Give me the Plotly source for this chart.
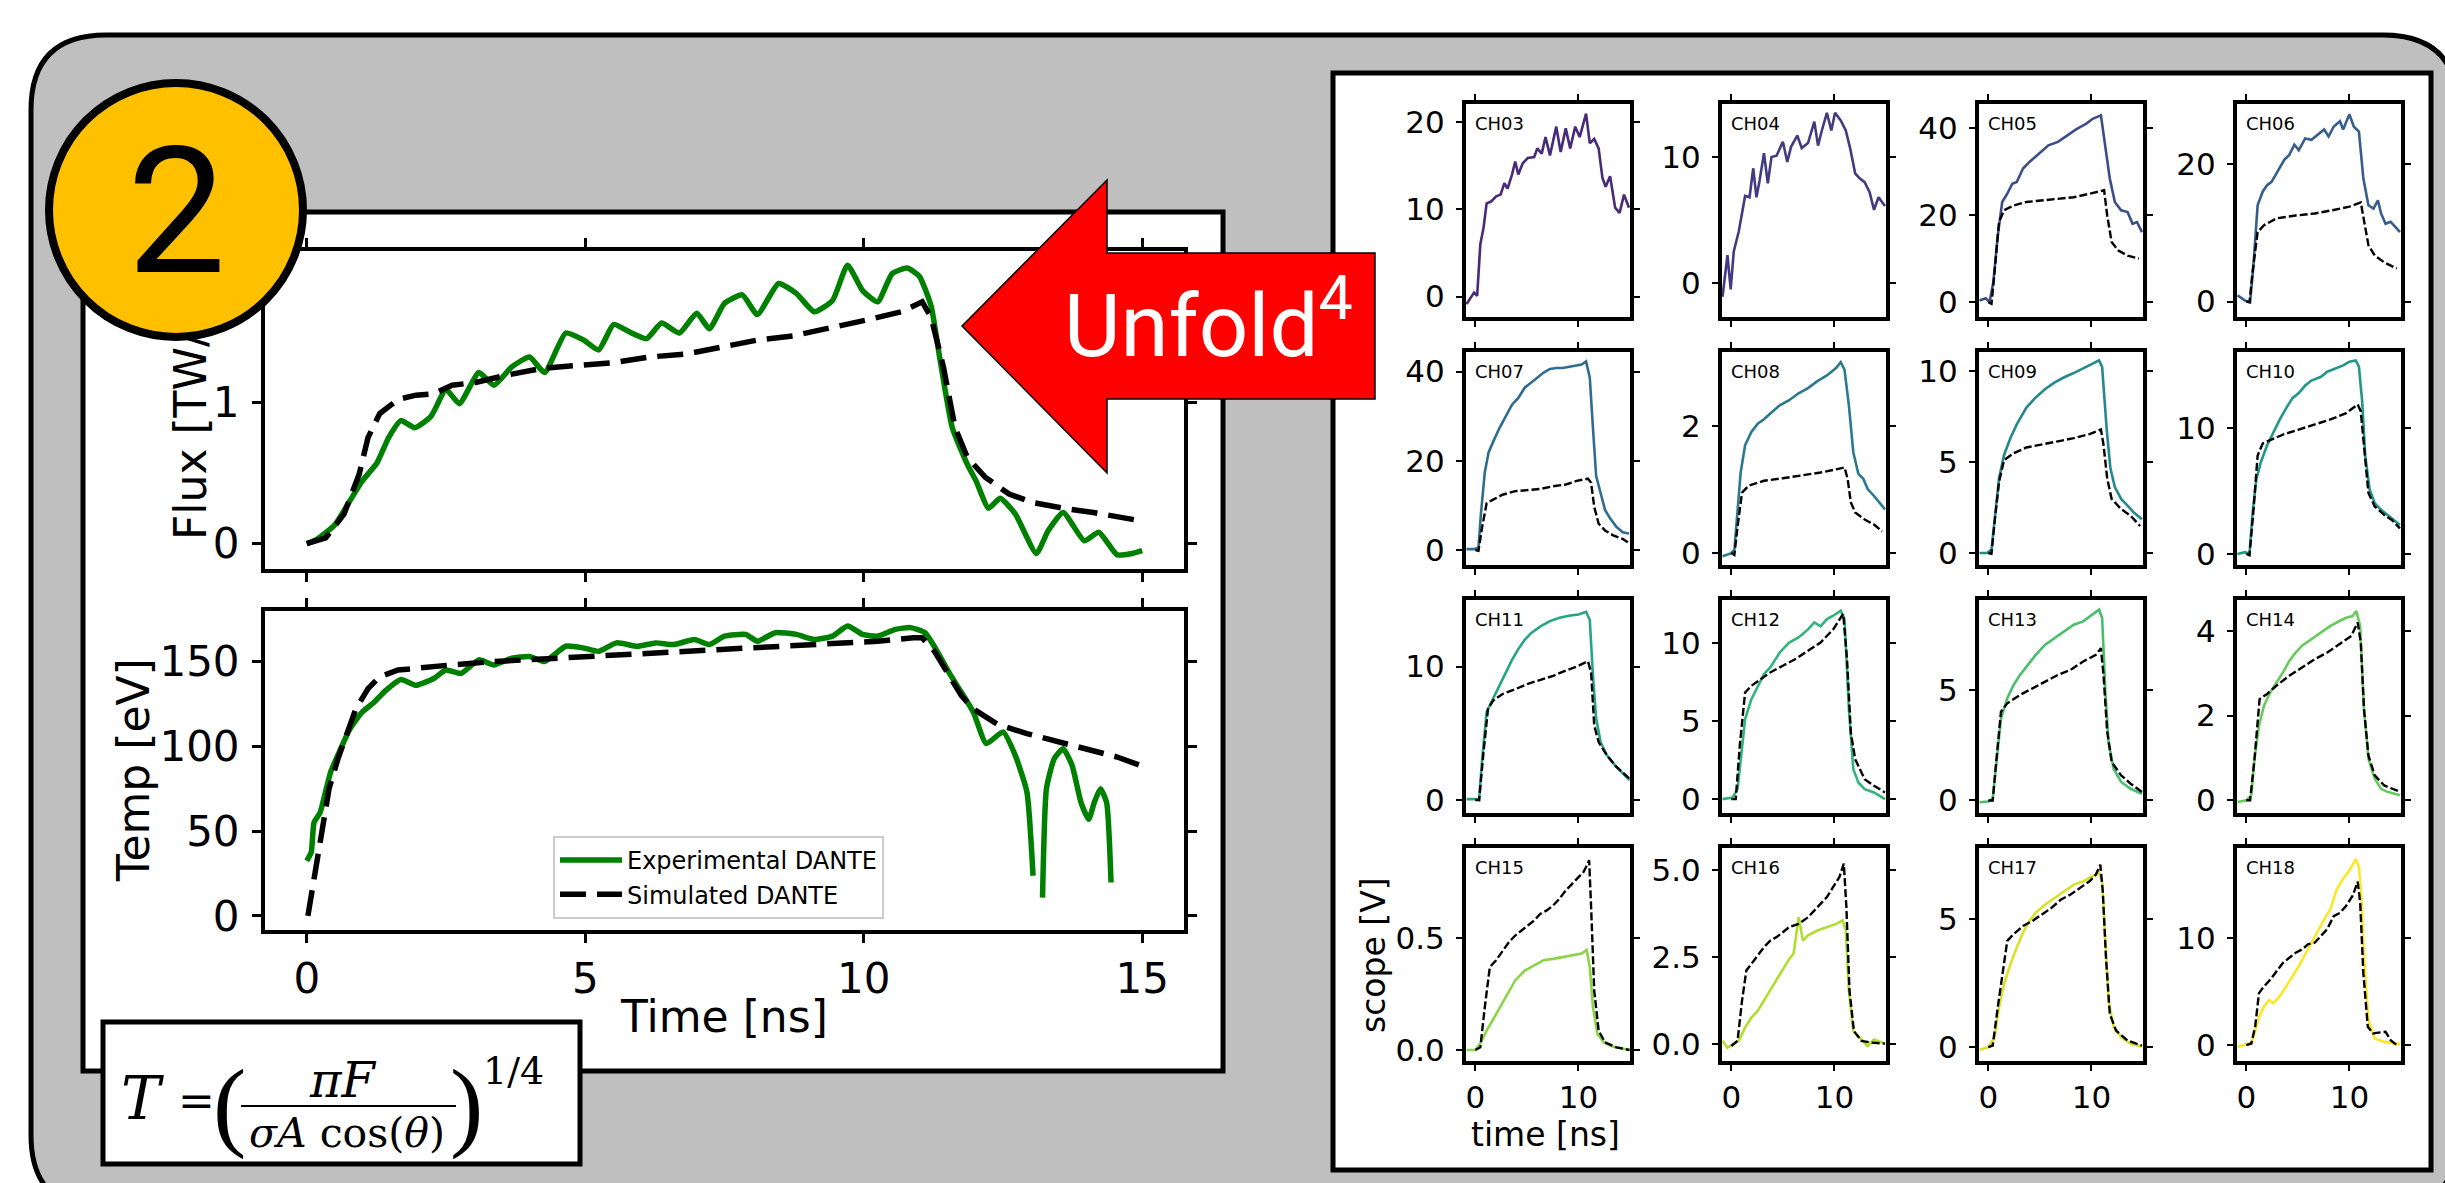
import plotly.graph_objects as go
from plotly.colors import sample_colorscale

W, H = 2445, 1183
FONT = "DejaVu Sans, Verdana, sans-serif"
SERIF = "DejaVu Serif, Liberation Serif, serif"
PAREN = "Liberation Serif, DejaVu Serif, serif"

# ---------------- data: main panels (time [ns], value) ----------------
FLUX_EXP = [(0.0, 0.0), (0.18, 0.03), (0.5, 0.13), (0.77, 0.30), (0.99, 0.44), (1.26, 0.57), (1.47, 0.75),
            (1.69, 0.87), (1.94, 0.82), (2.23, 0.90), (2.5, 1.09), (2.74, 0.99), (3.09, 1.21), (3.36, 1.12),
            (3.68, 1.25), (4.0, 1.32), (4.27, 1.21), (4.65, 1.49), (4.97, 1.44), (5.24, 1.37), (5.51, 1.55),
            (5.78, 1.50), (6.1, 1.45), (6.37, 1.56), (6.69, 1.49), (7.0, 1.63), (7.23, 1.52), (7.5, 1.70),
            (7.82, 1.76), (8.09, 1.62), (8.47, 1.84), (8.79, 1.77), (9.11, 1.64), (9.44, 1.72), (9.71, 1.97),
            (9.98, 1.79), (10.25, 1.71), (10.51, 1.91), (10.78, 1.95), (11.0, 1.89), (11.21, 1.68),
            (11.37, 1.30), (11.59, 0.82), (11.86, 0.56), (12.02, 0.44), (12.24, 0.25), (12.45, 0.32),
            (12.72, 0.21), (13.1, -0.07), (13.31, 0.09), (13.58, 0.22), (13.96, 0.02), (14.22, 0.08),
            (14.55, -0.08), (14.82, -0.07), (15.0, -0.05)]
FLUX_SIM = [(0.0, 0.0), (0.34, 0.04), (0.67, 0.21), (0.94, 0.49), (1.1, 0.75), (1.31, 0.92), (1.64, 1.02),
            (1.96, 1.05), (2.28, 1.06), (2.61, 1.12), (3.03, 1.14), (3.57, 1.19), (4.22, 1.24), (4.87, 1.26),
            (5.51, 1.28), (6.15, 1.32), (6.8, 1.34), (7.45, 1.39), (8.09, 1.44), (8.74, 1.47), (9.38, 1.52),
            (10.03, 1.58), (10.67, 1.64), (11.05, 1.71), (11.21, 1.60), (11.43, 1.25), (11.64, 0.82),
            (11.86, 0.61), (12.18, 0.47), (12.61, 0.35), (13.04, 0.29), (13.58, 0.25), (14.12, 0.22),
            (14.66, 0.18), (14.98, 0.16)]
TEMP_EXP = [(0.0, 32.5), (0.08, 37.5), (0.13, 55), (0.24, 61), (0.32, 71), (0.43, 85), (0.61, 98.6),
            (0.77, 110), (0.99, 120), (1.21, 126), (1.42, 133), (1.69, 139.4), (1.96, 136), (2.28, 140),
            (2.5, 145), (2.77, 143), (3.09, 151), (3.36, 148), (3.68, 152), (4.0, 153), (4.27, 150),
            (4.65, 159), (4.97, 158), (5.24, 156), (5.56, 161), (5.94, 159), (6.26, 161), (6.59, 160),
            (6.96, 163), (7.23, 160), (7.5, 165), (7.88, 166), (8.09, 162), (8.41, 167), (8.79, 166),
            (9.11, 163), (9.44, 165), (9.71, 171), (9.98, 166), (10.25, 165), (10.57, 169), (10.84, 170),
            (11.1, 167), (11.32, 156), (11.54, 143), (11.75, 132), (11.97, 120), (12.2, 101.6), (12.5, 108.5),
            (12.72, 94.7), (12.93, 73), (13.04, 23.7), (13.12, None), (13.21, 10.8), (13.28, 75),
            (13.42, 92.7), (13.58, 98.6), (13.74, 88.8), (13.9, 67), (14.04, 57), (14.14, 67), (14.25, 75),
            (14.36, 67), (14.44, 19.7)]
TEMP_SIM = [(0.02, 0), (0.13, 21.7), (0.24, 45), (0.4, 75), (0.56, 92.7), (0.72, 108.5), (0.88, 122),
            (1.1, 134), (1.31, 141), (1.64, 145), (2.07, 146), (2.6, 148), (3.36, 150), (4.22, 151.5),
            (5.08, 153), (5.94, 154), (6.8, 156), (7.66, 157), (8.52, 159), (9.38, 160), (10.25, 162),
            (10.89, 164), (11.05, 164), (11.27, 156), (11.54, 142), (11.75, 130), (11.97, 122), (12.4, 113),
            (12.93, 107.5), (13.5, 102.6), (14.12, 97.6), (14.55, 93.7), (14.96, 88.8)]

MAIN_XTICKS = [0, 5, 10, 15]
FLUX_YTICKS = [0, 1]
TEMP_YTICKS = [0, 50, 100, 150]
LEGEND_NAMES = ["Experimental DANTE", "Simulated DANTE"]

# ---------------- data: DANTE channel scope traces (time [ns], V) ----------------
CH03_EXP = [(-0.85, -0.87), (-0.43, -0.1), (-0.12, 0.46), (0.18, 0.08), (0.49, 6.0), (0.8, 7.9), (1.1, 10.7),
            (1.53, 10.9), (2.02, 11.5), (2.45, 11.7), (2.82, 13.0), (3.13, 12.4), (3.56, 14.0), (3.87, 15.5),
            (4.17, 14.0), (4.6, 15.3), (5.09, 15.9), (5.71, 16.0), (6.01, 17.0), (6.44, 16.4), (6.81, 18.3),
            (7.24, 16.2), (7.85, 19.5), (8.28, 16.6), (8.77, 19.3), (9.2, 17.0), (9.69, 19.5), (10.12, 18.3),
            (10.74, 21.0), (11.1, 17.6), (11.53, 18.1), (11.96, 17.0), (12.33, 13.6), (12.64, 12.6),
            (13.07, 13.8), (13.56, 10.2), (13.99, 9.6), (14.42, 11.7), (14.9, 10.2)]
CH04_EXP = [(-0.85, -1.1), (-0.37, 2.2), (-0.06, -0.5), (0.24, 2.5), (0.73, 4.1), (1.04, 5.4), (1.34, 6.9),
            (1.77, 6.8), (2.13, 9.1), (2.44, 6.8), (2.74, 8.1), (3.17, 10.3), (3.54, 7.9), (3.9, 10.0),
            (4.39, 10.1), (5.0, 11.2), (5.43, 9.6), (5.79, 10.8), (6.4, 11.7), (6.83, 10.7), (7.44, 11.1),
            (8.05, 12.8), (8.41, 10.9), (8.78, 12.1), (9.27, 13.5), (9.7, 12.1), (10.06, 13.5), (10.61, 12.9),
            (11.1, 12.1), (11.52, 10.7), (12.01, 8.7), (12.44, 8.3), (12.93, 8.0), (13.41, 7.2), (13.84, 5.8),
            (14.27, 6.8), (14.9, 6.1)]
CH05_EXP = [(-0.85, 0.4), (-0.25, 0.9), (0.12, 0.0), (0.49, 4.6), (0.92, 15.3), (1.35, 23.0), (1.84, 24.9),
            (2.33, 27.2), (2.76, 27.6), (3.37, 30.7), (3.99, 32.2), (4.91, 34.1), (5.83, 36.0), (6.75, 36.8),
            (7.67, 38.3), (8.59, 39.8), (9.51, 41.0), (10.12, 42.1), (10.92, 42.9), (11.35, 36.0),
            (11.78, 28.4), (12.27, 23.0), (12.88, 21.1), (13.5, 20.7), (13.99, 18.0), (14.42, 18.4),
            (14.9, 16.1)]
CH05_SIM = [(0.0, 0.0), (0.31, -0.4), (0.61, 6.9), (1.04, 18.4), (1.53, 21.1), (2.45, 22.2), (3.68, 23.0),
            (5.21, 23.4), (6.75, 23.8), (8.28, 24.1), (9.82, 24.9), (11.23, 25.7), (11.53, 19.9),
            (11.96, 13.8), (12.58, 11.9), (13.5, 10.7), (14.6, 10.0)]
CH06_EXP = [(-0.85, 0.9), (-0.12, 0.15), (0.37, -0.1), (0.67, 4.8), (1.1, 14.0), (1.6, 16.0), (2.02, 16.9),
            (2.45, 17.4), (2.76, 18.2), (3.25, 19.6), (3.68, 20.6), (4.17, 21.3), (4.66, 22.8), (5.09, 22.0),
            (5.71, 23.7), (6.32, 23.5), (6.93, 24.2), (7.55, 25.0), (7.98, 24.0), (8.47, 25.4), (9.08, 26.2),
            (9.39, 25.0), (10.0, 27.2), (10.43, 25.4), (10.92, 24.7), (11.35, 17.9), (11.84, 14.0),
            (12.33, 13.5), (12.76, 14.7), (13.07, 12.8), (13.5, 11.3), (13.99, 11.6), (14.42, 10.9),
            (14.9, 10.1)]
CH06_SIM = [(0.0, 0.0), (0.31, -0.1), (0.61, 4.3), (1.1, 10.1), (1.72, 11.1), (2.94, 12.1), (4.79, 12.5),
            (6.63, 12.8), (8.47, 13.3), (10.0, 13.8), (11.1, 14.4), (11.41, 11.6), (11.84, 8.2), (12.45, 6.7),
            (13.37, 5.7), (14.6, 4.8)]
CH07_EXP = [(-0.85, 0.2), (-0.12, 0.2), (0.31, 0.6), (0.55, 8.2), (0.92, 17.4), (1.29, 21.9), (1.72, 24.2),
            (2.33, 27.3), (2.94, 29.9), (3.56, 32.6), (4.17, 34.1), (4.79, 36.4), (5.4, 37.5), (6.01, 38.7),
            (6.63, 39.8), (7.24, 40.6), (7.85, 40.8), (8.47, 40.8), (9.08, 41.1), (9.69, 41.4), (10.31, 41.6),
            (10.74, 42.3), (11.1, 38.7), (11.41, 27.3), (11.72, 16.6), (12.15, 12.8), (12.58, 9.0),
            (13.07, 7.1), (13.68, 5.2), (14.29, 4.0), (14.9, 3.7)]
CH07_SIM = [(0.0, 0.0), (0.31, -0.15), (0.67, 5.2), (1.1, 10.5), (1.72, 11.3), (2.64, 12.4), (3.87, 13.2),
            (5.09, 13.4), (6.32, 13.7), (7.55, 14.3), (8.77, 14.7), (9.82, 15.5), (10.92, 16.0), (11.23, 15.1),
            (11.53, 9.7), (11.96, 5.9), (12.58, 4.4), (13.37, 3.3), (14.29, 2.5), (14.79, 1.75)]
CH08_EXP = [(-0.85, -0.05), (-0.12, -0.01), (0.3, 0.05), (0.61, 0.64), (0.91, 1.27), (1.34, 1.70),
            (1.95, 1.91), (2.56, 2.04), (3.17, 2.11), (3.78, 2.20), (4.7, 2.33), (5.61, 2.41), (6.52, 2.52),
            (7.44, 2.60), (8.35, 2.71), (9.27, 2.80), (10.18, 2.92), (10.61, 3.01), (10.98, 2.89), (11.4, 2.33),
            (11.83, 1.59), (12.32, 1.25), (12.8, 1.17), (13.23, 1.01), (13.84, 0.90), (14.9, 0.69)]
CH08_SIM = [(0.0, 0.0), (0.3, -0.03), (0.61, 0.42), (1.04, 0.95), (1.65, 1.06), (3.17, 1.14), (5.0, 1.18),
            (6.83, 1.22), (8.66, 1.27), (10.18, 1.32), (10.98, 1.35), (11.28, 1.17), (11.59, 0.80),
            (12.01, 0.64), (12.93, 0.53), (13.84, 0.45), (14.63, 0.34)]
CH09_EXP = [(-0.85, 0.0), (-0.12, 0.0), (0.31, 0.19), (0.61, 1.86), (1.04, 4.10), (1.53, 5.40), (2.15, 6.33),
            (2.76, 7.08), (3.68, 8.0), (4.6, 8.57), (5.52, 9.03), (6.44, 9.40), (7.36, 9.68), (8.28, 9.91),
            (9.2, 10.15), (10.12, 10.43), (10.74, 10.61), (11.04, 10.24), (11.47, 6.89), (11.84, 4.66),
            (12.27, 3.63), (12.88, 2.98), (13.5, 2.61), (14.11, 2.23), (14.9, 1.86)]
CH09_SIM = [(0.0, 0.0), (0.31, -0.04), (0.61, 1.68), (1.04, 3.91), (1.53, 5.12), (2.45, 5.49), (3.68, 5.81),
            (5.21, 5.96), (6.75, 6.15), (8.28, 6.33), (9.82, 6.55), (10.92, 6.80), (11.17, 5.96), (11.53, 4.10),
            (11.96, 2.98), (12.88, 2.42), (13.8, 2.05), (14.72, 1.49)]
CH10_EXP = [(-0.85, 0.0), (-0.12, 0.14), (0.31, 0.0), (0.61, 3.24), (0.98, 5.95), (1.41, 7.3), (2.02, 8.65),
            (2.64, 9.73), (3.25, 10.7), (3.87, 11.6), (4.48, 12.4), (5.09, 12.8), (5.71, 13.4), (6.32, 13.8),
            (7.24, 14.1), (7.85, 14.5), (8.47, 14.7), (9.39, 15.0), (10.0, 15.3), (10.61, 15.4), (10.92, 14.9),
            (11.23, 12.2), (11.53, 7.84), (11.96, 5.14), (12.45, 4.05), (13.07, 3.51), (13.68, 3.11),
            (14.29, 2.70), (14.9, 2.30)]
CH10_SIM = [(0.0, 0.0), (0.31, -0.1), (0.67, 3.2), (1.1, 7.84), (1.6, 8.8), (2.64, 9.2), (3.56, 9.5),
            (5.09, 9.9), (6.63, 10.3), (8.16, 10.7), (9.69, 11.2), (10.8, 11.9), (11.1, 11.35), (11.41, 8.65),
            (11.84, 4.86), (12.45, 3.78), (13.37, 3.11), (14.11, 2.70), (14.9, 2.03)]
CH11_EXP = [(-0.85, 0.07), (0.0, 0.07), (0.37, 0.0), (0.67, 3.1), (1.1, 6.6), (1.72, 7.6), (2.33, 8.6),
            (2.94, 9.55), (3.56, 10.5), (4.17, 11.3), (4.79, 12.0), (5.4, 12.5), (6.32, 13.0), (7.24, 13.4),
            (8.16, 13.65), (9.08, 13.8), (10.0, 13.9), (10.74, 14.1), (11.1, 13.5), (11.41, 9.3), (11.72, 6.1),
            (12.15, 4.34), (12.76, 3.35), (13.56, 2.6), (14.29, 1.99), (14.95, 1.49)]
CH11_SIM = [(0.0, 0.0), (0.37, 0.0), (0.8, 3.6), (1.23, 6.8), (1.72, 7.44), (2.64, 7.94), (3.87, 8.3),
            (5.09, 8.7), (6.32, 9.0), (7.55, 9.3), (8.77, 9.7), (10.0, 10.05), (10.92, 10.4), (11.23, 9.55),
            (11.53, 5.6), (11.96, 4.34), (12.76, 3.35), (13.68, 2.48), (14.95, 1.61)]
CH12_EXP = [(-0.85, 0.0), (0.12, 0.1), (0.61, 0.64), (0.91, 2.57), (1.34, 5.14), (1.95, 6.42), (2.56, 7.28),
            (3.17, 8.03), (3.78, 8.46), (4.7, 9.42), (5.61, 10.06), (6.52, 10.38), (7.44, 10.9), (8.05, 11.35),
            (8.66, 11.1), (9.27, 11.56), (9.88, 11.78), (10.61, 12.1), (10.98, 11.56), (11.4, 5.78),
            (11.83, 1.93), (12.32, 1.07), (12.93, 0.64), (13.84, 0.43), (14.9, 0.0)]
CH12_SIM = [(0.0, 0.0), (0.43, 0.0), (0.85, 3.64), (1.34, 6.85), (1.95, 7.28), (2.87, 7.71), (3.78, 8.14),
            (5.0, 8.57), (6.22, 9.0), (7.44, 9.53), (8.66, 10.06), (9.88, 10.9), (10.85, 11.9), (11.22, 9.0),
            (11.59, 4.28), (12.01, 2.57), (12.93, 1.28), (13.84, 0.86), (14.9, 0.43)]
CH13_EXP = [(-0.85, -0.08), (0.0, -0.05), (0.43, 0.08), (0.8, 1.9), (1.23, 3.72), (1.84, 4.64), (2.45, 5.24),
            (3.07, 5.7), (3.68, 6.08), (4.6, 6.61), (5.52, 7.07), (6.44, 7.37), (7.36, 7.67), (8.28, 7.98),
            (9.2, 8.13), (10.12, 8.43), (10.74, 8.66), (11.04, 8.28), (11.35, 4.94), (11.66, 2.66),
            (12.15, 1.44), (12.88, 0.84), (13.8, 0.53), (14.9, 0.30)]
CH13_SIM = [(0.0, 0.0), (0.43, 0.0), (0.8, 1.9), (1.23, 4.03), (1.84, 4.41), (3.07, 4.79), (4.29, 5.09),
            (5.52, 5.4), (6.75, 5.7), (7.98, 5.93), (9.2, 6.31), (10.43, 6.61), (10.92, 6.91), (11.17, 5.7),
            (11.53, 3.12), (11.96, 1.75), (12.88, 1.14), (13.8, 0.76), (14.9, 0.38)]
CH14_EXP = [(-0.85, -0.04), (0.0, 0.0), (0.49, 0.12), (0.8, 0.98), (1.23, 1.76), (1.72, 2.24), (2.33, 2.55),
            (2.94, 2.78), (3.56, 3.02), (4.17, 3.29), (4.79, 3.49), (5.4, 3.65), (6.32, 3.80), (7.24, 3.96),
            (8.16, 4.12), (9.08, 4.24), (9.69, 4.31), (10.31, 4.35), (10.67, 4.47), (11.04, 4.12),
            (11.41, 2.16), (11.84, 0.98), (12.45, 0.51), (13.07, 0.27), (13.68, 0.2), (14.9, 0.12)]
CH14_SIM = [(0.0, 0.0), (0.37, 0.0), (0.8, 0.98), (1.29, 2.39), (2.02, 2.51), (2.94, 2.71), (4.17, 2.94),
            (5.4, 3.14), (6.63, 3.33), (7.85, 3.49), (9.08, 3.69), (10.18, 3.88), (10.8, 4.2), (11.1, 3.73),
            (11.41, 2.16), (11.84, 1.06), (12.45, 0.59), (13.37, 0.35), (14.9, 0.2)]
CH15_EXP = [(-0.85, 0.0), (0.0, 0.0), (0.49, 0.03), (1.1, 0.086), (2.02, 0.16), (2.94, 0.235), (3.87, 0.31),
            (4.79, 0.354), (5.71, 0.376), (6.63, 0.40), (7.55, 0.406), (8.47, 0.414), (9.39, 0.42),
            (10.31, 0.43), (10.8, 0.446), (11.1, 0.37), (11.41, 0.19), (11.84, 0.071), (12.45, 0.034),
            (13.37, 0.015), (14.95, 0.0)]
CH15_SIM = [(0.0, 0.0), (0.49, 0.012), (0.92, 0.19), (1.41, 0.37), (2.02, 0.40), (2.64, 0.443), (3.25, 0.48),
            (3.87, 0.51), (4.48, 0.533), (5.09, 0.555), (5.71, 0.577), (6.32, 0.607), (6.93, 0.622),
            (7.55, 0.644), (8.16, 0.674), (8.77, 0.711), (9.39, 0.741), (10.0, 0.77), (10.49, 0.793),
            (10.74, 0.815), (11.04, 0.845), (11.23, 0.637), (11.53, 0.265), (11.96, 0.086), (12.58, 0.034),
            (13.68, 0.012), (14.95, 0.0)]
CH16_EXP = [(-0.85, 0.1), (-0.37, -0.1), (0.12, 0.0), (0.73, 0.1), (1.34, 0.48), (1.95, 0.77), (2.56, 0.96),
            (3.17, 1.25), (3.78, 1.54), (4.39, 1.83), (5.0, 2.12), (5.61, 2.45), (6.04, 2.6), (6.52, 3.65),
            (6.95, 2.98), (7.44, 3.13), (8.35, 3.27), (9.27, 3.37), (10.18, 3.46), (10.79, 3.56), (11.1, 3.27),
            (11.4, 1.54), (11.83, 0.38), (12.44, 0.19), (13.23, -0.05), (13.84, 0.14), (14.9, 0.02)]
CH16_SIM = [(0.0, -0.05), (0.61, 0.1), (1.04, 1.25), (1.46, 2.12), (1.95, 2.31), (2.56, 2.55), (3.17, 2.79),
            (3.78, 2.98), (4.39, 3.08), (5.0, 3.22), (5.61, 3.37), (6.52, 3.46), (7.44, 3.65), (8.35, 3.94),
            (9.27, 4.23), (9.88, 4.52), (10.49, 4.81), (10.91, 5.19), (11.16, 3.94), (11.46, 1.54),
            (11.89, 0.38), (12.62, 0.1), (13.54, 0.05), (14.9, 0.02)]
CH17_EXP = [(-0.85, -0.1), (0.0, 0.0), (0.61, 0.39), (1.04, 1.56), (1.53, 2.47), (2.15, 3.25), (2.76, 3.9),
            (3.37, 4.48), (3.99, 4.94), (4.6, 5.26), (5.52, 5.58), (6.44, 5.84), (7.36, 6.1), (8.28, 6.36),
            (9.2, 6.49), (10.12, 6.69), (10.74, 6.82), (11.04, 6.49), (11.35, 4.16), (11.66, 1.82),
            (12.15, 0.78), (12.88, 0.39), (13.8, 0.13), (14.9, 0.03)]
CH17_SIM = [(0.0, 0.0), (0.43, 0.06), (0.92, 1.56), (1.35, 2.86), (1.84, 4.16), (2.45, 4.42), (3.37, 4.74),
            (4.29, 4.94), (5.21, 5.19), (6.13, 5.45), (7.06, 5.78), (7.98, 5.97), (8.9, 6.23), (9.82, 6.49),
            (10.43, 6.75), (10.86, 7.14), (11.1, 6.1), (11.41, 3.51), (11.78, 1.3), (12.39, 0.65),
            (13.5, 0.26), (14.9, 0.06)]
CH18_EXP = [(-0.85, -0.16), (0.0, 0.1), (0.49, 0.16), (0.8, 1.1), (1.23, 2.66), (1.72, 3.6), (2.21, 4.2),
            (2.64, 3.9), (3.25, 4.53), (3.87, 5.47), (4.48, 6.4), (5.09, 7.34), (5.71, 8.44), (6.32, 9.53),
            (6.93, 10.6), (7.55, 11.7), (8.16, 12.66), (8.77, 14.5), (9.39, 15.5), (10.0, 16.25),
            (10.61, 17.3), (10.92, 16.6), (11.17, 13.6), (11.41, 8.28), (11.84, 2.34), (12.45, 0.63),
            (13.37, 0.31), (14.9, 0.1)]
CH18_SIM = [(0.0, 0.0), (0.49, 0.16), (0.86, 1.72), (1.23, 4.84), (1.72, 5.47), (2.33, 6.1), (2.94, 6.88),
            (3.56, 7.66), (4.17, 8.13), (4.79, 8.6), (5.4, 8.9), (6.01, 9.4), (6.63, 9.53), (7.24, 10.2),
            (7.85, 10.8), (8.47, 12.0), (9.08, 12.3), (9.69, 12.97), (10.31, 13.9), (10.8, 15.2),
            (11.04, 13.3), (11.35, 6.7), (11.78, 1.72), (12.27, 1.1), (13.07, 1.16), (13.5, 1.25),
            (13.99, 0.47), (14.6, 0.0)]

CHANNEL_NAMES = ["CH03", "CH04", "CH05", "CH06", "CH07", "CH08", "CH09", "CH10",
                 "CH11", "CH12", "CH13", "CH14", "CH15", "CH16", "CH17", "CH18"]
CHANNEL_EXP = [CH03_EXP, CH04_EXP, CH05_EXP, CH06_EXP, CH07_EXP, CH08_EXP, CH09_EXP, CH10_EXP,
               CH11_EXP, CH12_EXP, CH13_EXP, CH14_EXP, CH15_EXP, CH16_EXP, CH17_EXP, CH18_EXP]
CHANNEL_SIM = [None, None, CH05_SIM, CH06_SIM, CH07_SIM, CH08_SIM, CH09_SIM, CH10_SIM,
               CH11_SIM, CH12_SIM, CH13_SIM, CH14_SIM, CH15_SIM, CH16_SIM, CH17_SIM, CH18_SIM]
CHANNEL_YTICKS = [[0, 10, 20], [0, 10], [0, 20, 40], [0, 20], [0, 20, 40], [0, 2], [0, 5, 10], [0, 10],
                  [0, 10], [0, 5, 10], [0, 5], [0, 2, 4], [0.0, 0.5], [0.0, 2.5, 5.0], [0, 5], [0, 10]]
CHANNEL_YTICKTEXT = [["0", "10", "20"], ["0", "10"], ["0", "20", "40"], ["0", "20"], ["0", "20", "40"],
                     ["0", "2"], ["0", "5", "10"], ["0", "10"], ["0", "10"], ["0", "5", "10"], ["0", "5"],
                     ["0", "2", "4"], ["0.0", "0.5"], ["0.0", "2.5", "5.0"], ["0", "5"], ["0", "10"]]
SMALL_XTICKS = [0, 10]

# ---------------- axis ranges (layout) ----------------
CHANNEL_YRANGE = [[-2.35, 22.1], [-2.7, 14.2], [-3.4, 45.5], [-2.24, 28.7], [-3.35, 44.4], [-0.188, 3.17],
                  [-0.66, 11.07], [-0.88, 16.07], [-0.97, 14.98], [-0.89, 12.79], [-0.57, 9.1], [-0.30, 4.73],
                  [-0.049, 0.90], [-0.48, 5.64], [-0.54, 7.79], [-1.47, 18.34]]
SMALL_XRANGE = [-0.9, 15.0]
MAIN_XRANGE = [-0.75, 15.75]
FLUX_YRANGE = [-0.18, 2.07]
TEMP_YRANGE = [-8.3, 179.8]


def X(p):
    return p / W


def Y(p):
    return 1 - p / H


def unzip(pairs):
    return [p[0] for p in pairs], [p[1] for p in pairs]


fig = go.Figure()

GREEN = "#008000"
for pairs, ax, ay, show in [(FLUX_EXP, "x", "y", False), (TEMP_EXP, "x2", "y2", True)]:
    tx, ty = unzip(pairs)
    fig.add_trace(go.Scatter(x=tx, y=ty, mode="lines", name=LEGEND_NAMES[0], showlegend=show, xaxis=ax, yaxis=ay,
                             line=dict(color=GREEN, width=5.5, shape="spline", smoothing=0.5),
                             hoverinfo="skip"))
for pairs, ax, ay, show in [(FLUX_SIM, "x", "y", False), (TEMP_SIM, "x2", "y2", True)]:
    tx, ty = unzip(pairs)
    fig.add_trace(go.Scatter(x=tx, y=ty, mode="lines", name=LEGEND_NAMES[1], showlegend=show, xaxis=ax, yaxis=ay,
                             line=dict(color="black", width=5.5, dash="26px,11px"),
                             hoverinfo="skip"))

colors = sample_colorscale("Viridis", [(i + 2) / 17 for i in range(16)])

COL_LEFT = [1466, 1722, 1979, 2237]
COL_W = 164
ROW_TOP = [104, 352, 600, 848]
ROW_H = 213

layout_axes = {}
small_tickfont = dict(family=FONT, size=31, color="black")
main_tickfont = dict(family=FONT, size=42, color="black")

common_small = dict(showline=True, linecolor="black", linewidth=4, mirror="ticks", ticks="outside",
                    ticklen=6, tickwidth=2, tickcolor="black", showgrid=False, zeroline=False,
                    tickfont=small_tickfont, automargin=False)
common_main = dict(showline=True, linecolor="black", linewidth=4, mirror="ticks", ticks="outside",
                   ticklen=9, tickwidth=2.5, tickcolor="black", showgrid=False, zeroline=False,
                   tickfont=main_tickfont, automargin=False)

layout_axes["xaxis"] = dict(common_main, domain=[X(265), X(1184)], range=MAIN_XRANGE, tickvals=MAIN_XTICKS,
                            showticklabels=False, anchor="y")
layout_axes["yaxis"] = dict(common_main, domain=[Y(569), Y(251)], range=FLUX_YRANGE, tickvals=FLUX_YTICKS,
                            anchor="x", ticklabelstandoff=4)
layout_axes["xaxis2"] = dict(common_main, domain=[X(265), X(1184)], range=MAIN_XRANGE, tickvals=MAIN_XTICKS,
                             anchor="y2")
layout_axes["yaxis2"] = dict(common_main, domain=[Y(930), Y(611)], range=TEMP_YRANGE, tickvals=TEMP_YTICKS,
                             anchor="x2", ticklabelstandoff=4)

annotations = []
for i in range(16):
    n = i + 3
    r, c = divmod(i, 4)
    ax, ay = f"x{n}", f"y{n}"
    tx, ty = unzip(CHANNEL_EXP[i])
    fig.add_trace(go.Scatter(x=tx, y=ty, mode="lines", showlegend=False, xaxis=ax, yaxis=ay,
                             line=dict(color=colors[i], width=2.6), hoverinfo="skip"))
    if CHANNEL_SIM[i] is not None:
        sx, sy = unzip(CHANNEL_SIM[i])
        fig.add_trace(go.Scatter(x=sx, y=sy, mode="lines", showlegend=False, xaxis=ax, yaxis=ay,
                                 line=dict(color="black", width=2.4, dash="8px,3px"), hoverinfo="skip"))
    x0 = COL_LEFT[c]
    y0 = ROW_TOP[r]
    layout_axes[f"xaxis{n}"] = dict(common_small, domain=[X(x0), X(x0 + COL_W)], range=SMALL_XRANGE,
                                    tickvals=SMALL_XTICKS, showticklabels=(r == 3), anchor=ay)
    layout_axes[f"yaxis{n}"] = dict(common_small, domain=[Y(y0 + ROW_H), Y(y0)], range=CHANNEL_YRANGE[i],
                                    tickvals=CHANNEL_YTICKS[i], ticktext=CHANNEL_YTICKTEXT[i], anchor=ax,
                                    ticklabelstandoff=5)
    annotations.append(dict(text=CHANNEL_NAMES[i], xref=f"{ax} domain", yref=f"{ay} domain", x=0.04, y=0.965,
                            xanchor="left", yanchor="top", showarrow=False,
                            font=dict(family=FONT, size=18, color="black")))


def P(x, y):
    return f"{X(x):.5f},{Y(y):.5f}"


def rounded_rect(x0, y0, x1, y1, r):
    return (f"M {P(x0 + r, y0)} L {P(x1 - r, y0)} Q {P(x1, y0)} {P(x1, y0 + r)} "
            f"L {P(x1, y1 - r)} Q {P(x1, y1)} {P(x1 - r, y1)} L {P(x0 + r, y1)} "
            f"Q {P(x0, y1)} {P(x0, y1 - r)} L {P(x0, y0 + r)} Q {P(x0, y0)} {P(x0 + r, y0)} Z")


def poly(points):
    return "M " + " L ".join(P(x, y) for x, y in points) + " Z"


shapes = [
    dict(type="path", xref="paper", yref="paper", path=rounded_rect(31, 35, 2458, 1210, 75),
         fillcolor="#bfbfbf", line=dict(color="black", width=5), layer="below"),
    dict(type="rect", xref="paper", yref="paper", x0=X(83), x1=X(1223), y0=Y(1071), y1=Y(212),
         fillcolor="white", line=dict(color="black", width=5), layer="below"),
    dict(type="rect", xref="paper", yref="paper", x0=X(1333), x1=X(2431), y0=Y(1170), y1=Y(73),
         fillcolor="white", line=dict(color="black", width=5), layer="below"),
    dict(type="rect", xref="paper", yref="paper", x0=X(103), x1=X(580), y0=Y(1164), y1=Y(1022),
         fillcolor="white", line=dict(color="black", width=5), layer="below"),
    dict(type="line", xref="paper", yref="paper", x0=X(241), x1=X(456), y0=Y(1106), y1=Y(1106),
         line=dict(color="black", width=2), layer="above"),
    # y-axis title of the flux panel (partly hidden behind the numbered circle, as in the original)
    dict(type="rect", xref="paper", yref="paper", x0=X(165), x1=X(209), y0=Y(560), y1=Y(254),
         fillcolor="rgba(0,0,0,0)", line=dict(width=0), layer="above",
         label=dict(text="Flux [TW/sr]", textangle=-90, textposition="middle center",
                    font=dict(family=FONT, size=44, color="black"))),
    dict(type="circle", xref="paper", yref="paper", x0=X(49), x1=X(303), y0=Y(337), y1=Y(83),
         fillcolor="#ffc000", line=dict(color="black", width=8), layer="above"),
    dict(type="path", xref="paper", yref="paper",
         path=poly([(962, 326), (1107, 180), (1107, 253), (1375, 253), (1375, 399), (1107, 399), (1107, 473)]),
         fillcolor="#ff0000", line=dict(color="black", width=1.5), layer="above"),
]


def note(text, x, y, size, family=FONT, color="black", angle=0, xanchor="center"):
    return dict(text=text, x=X(x), y=Y(y), xref="paper", yref="paper", showarrow=False, textangle=angle,
                xanchor=xanchor, yanchor="middle", font=dict(family=family, size=size, color=color))


annotations += [
    note("2", 176, 212, 176, family="Roboto, Open Sans, sans-serif"),
    note("Unfold<sup>4</sup>", 1062, 320, 87, family="Roboto, Open Sans, sans-serif", color="white",
         xanchor="left"),
    note("Time [ns]", 724, 1016, 44),
    note("Temp [eV]", 133, 770, 44, angle=-90),
    note("scope [V]", 1373, 955, 33, angle=-90),
    note("time [ns]", 1545, 1134, 33),
    # formula  T = (pi F / (sigma A cos(theta)))^(1/4)
    note("<i>T</i>", 142, 1098, 59, family=SERIF),
    note("=", 196, 1100, 44, family=SERIF),
    note("(", 229, 1104, 100, family=PAREN),
    note("<i>πF</i>", 343, 1080, 48, family=SERIF),
    note("<i>σA</i> cos(<i>θ</i>)", 347, 1133, 41, family=SERIF),
    note(")", 466, 1104, 100, family=PAREN),
    note("1/4", 513, 1071, 38, family=SERIF),
]

fig.update_layout(
    width=W, height=H, autosize=False,
    margin=dict(l=0, r=0, t=0, b=0, pad=0, autoexpand=False),
    paper_bgcolor="white", plot_bgcolor="rgba(0,0,0,0)",
    font=dict(family=FONT, color="black"),
    showlegend=True,
    legend=dict(x=X(553), y=Y(836), xanchor="left", yanchor="top", bgcolor="white",
                bordercolor="#cccccc", borderwidth=2, font=dict(family=FONT, size=24, color="black"),
                tracegroupgap=0, itemwidth=62),
    shapes=shapes, annotations=annotations,
    **layout_axes,
)

fig.write_html("out.html", config={"displayModeBar": False, "responsive": False},
               post_script="document.body.style.margin='0px';document.body.style.overflow='hidden';")
